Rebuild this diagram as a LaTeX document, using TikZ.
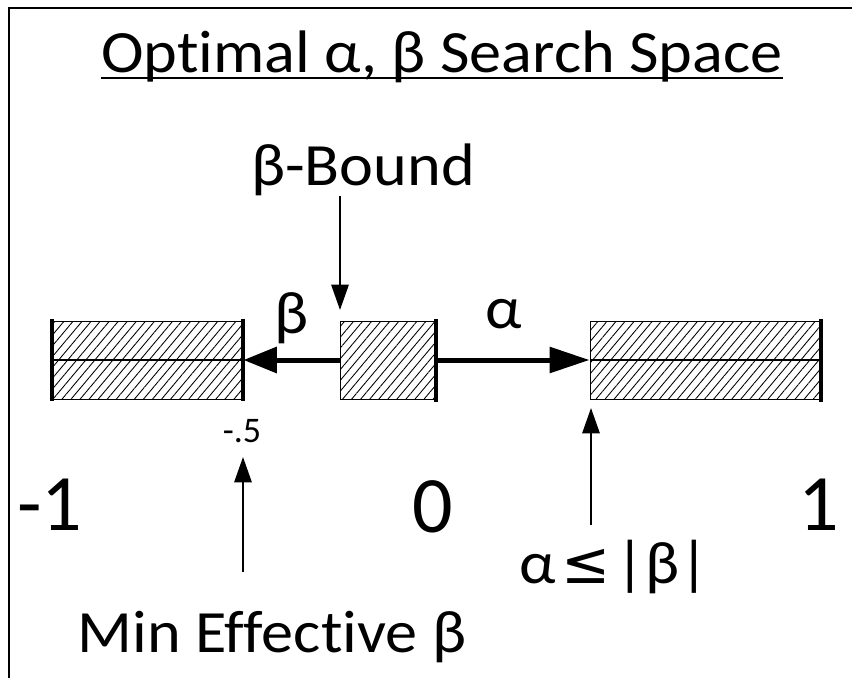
\documentclass[tikz,border=0pt]{standalone}
\usepackage{fontspec}
\setmainfont{Carlito}[Ligatures=NoCommon]
\newfontfamily\widefont{Carlito}[Ligatures=NoCommon,FakeStretch=1.07]
\newfontfamily\symfont{DejaVu Sans}
\usetikzlibrary{arrows.meta,patterns.meta,calc}
\begin{document}
\begin{tikzpicture}[x=0.75pt,y=-0.75pt,
  txt/.style={inner sep=0pt,anchor=base,font=\widefont\fontsize{45pt}{54pt}\selectfont},
  big/.style={inner sep=0pt,anchor=base,font=\fontsize{60pt}{72pt}\selectfont},
  small/.style={inner sep=0pt,anchor=base,font=\fontsize{27pt}{32pt}\selectfont},
  hatchbox/.style={draw=black,line width=0.75pt,pattern={Lines[angle=50,distance=5.2pt,line width=0.65pt]}},
  bar/.style={line width=3pt},
  midline/.style={line width=2.2pt},
  bigarrow/.style={line width=3.75pt,-{Triangle[length=25pt,width=19pt]}},
  bigarrowa/.style={line width=3.75pt,-{Triangle[length=30pt,width=19pt]}},
  thinarrow/.style={line width=1.5pt,-{Triangle[length=19pt,width=13pt]}},
  frame/.style={line width=2pt}]
\useasboundingbox (0,0) rectangle (852,678);
% frame (left and top only)
\coordinate (fbl) at (9,678);
\coordinate (ftl) at (9,8);
\coordinate (ftr) at (852,8);
\draw[frame] (fbl) -- (ftl) -- (ftr);
% title
\node[txt] (title) at (442,72) {Optimal α, β Search Space};
\draw[line width=2pt] ($(title.base west)+(0,6)$) -- ($(title.base east)+(0,6)$);
% boxes
\node[hatchbox,minimum width=191*0.75pt,minimum height=78*0.75pt,inner sep=0pt] (lbox) at (147.5,360) {};
\node[hatchbox,minimum width=95*0.75pt,minimum height=78*0.75pt,inner sep=0pt] (mbox) at (387.5,360) {};
\node[hatchbox,minimum width=230*0.75pt,minimum height=78*0.75pt,inner sep=0pt] (rbox) at (705,360) {};
% middle lines
\draw[midline] (lbox.west) -- (lbox.east);
\draw[midline] (rbox.west) -- (rbox.east);
% thick bars
\draw[bar] ($(lbox.north west)+(0,-2)$) -- ($(lbox.south west)+(0,2)$);
\draw[bar] ($(lbox.north east)+(0,-2)$) -- ($(lbox.south east)+(0,2)$);
\draw[bar] ($(mbox.north east)+(0,-2)$) -- ($(mbox.south east)+(0,2)$);
\draw[bar] ($(rbox.north east)+(0,-2)$) -- ($(rbox.south east)+(0,2)$);
% beta / alpha arrows
\draw[bigarrow] (mbox.west) -- (lbox.east);
\draw[bigarrowa] (mbox.east) -- (rbox.west);
\node[txt] (blabel) at (292,333) {β};
\node[txt] (alabel) at (504,328) {α};
% beta-bound
\node[txt] (bbound) at (363,185) {β-Bound};
\coordinate (bbstart) at (340,196);
\coordinate (bbtip) at (340,310);
\draw[thinarrow] (bbstart) -- (bbtip);
% -.5
\node[small] (half) at (242,442) {-.5};
\coordinate (halfstart) at (243,572);
\coordinate (halftip) at (243,457);
\draw[thinarrow] (halfstart) -- (halftip);
% alpha <= |beta|
\coordinate (abstart) at (591,525);
\coordinate (abtip) at (591,408);
\draw[thinarrow] (abstart) -- (abtip);
\node[txt] (ab) at (614,583) {α\hspace{0.1em}{\symfont\fontsize{44pt}{48pt}\selectfont ≤}\hspace{0.08em}|β|};
% numbers
\node[big] (m1) at (50,530) {-1};
\node[big] (zero) at (433,532) {0};
\node[big] (one) at (819,530) {1};
% min effective beta
\node[txt] (minb) at (272,652) {Min Effective β};
\end{tikzpicture}
\end{document}
